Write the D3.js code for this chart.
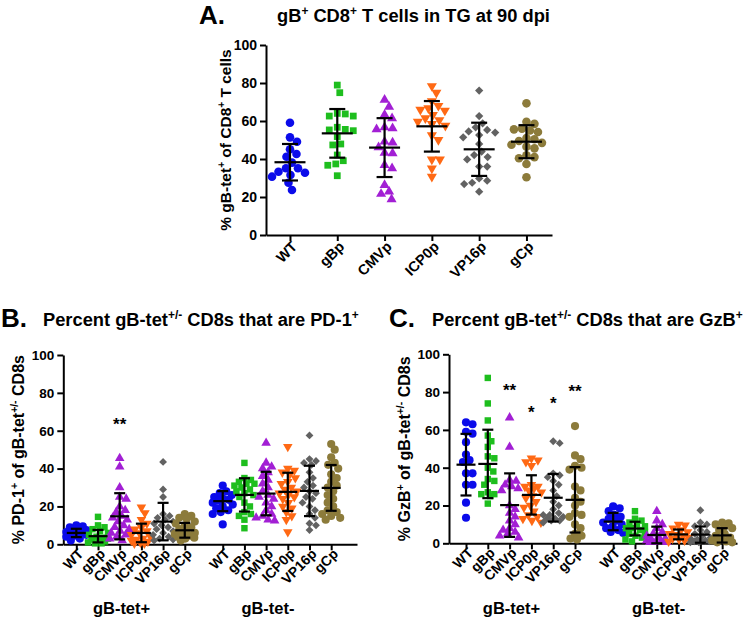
<!DOCTYPE html>
<html><head><meta charset="utf-8">
<script src="https://cdn.jsdelivr.net/npm/d3@7"></script>
<style>
body{margin:0;background:#fff}
svg{display:block}
text{font-family:"Liberation Sans",Arial,Helvetica,sans-serif;font-weight:bold;fill:#000}
</style>
</head><body>
<svg id="chart" width="750" height="623"></svg>
<script>
// ---------- shared ----------
const categories = ["WT","gBp","CMVp","ICP0p","VP16p","gCp"];
const groupNames = ["gB-tet+","gB-tet-"];
const seriesColors = ["#0b0bea","#1ebe1e","#a21fd4","#ff6914","#626262","#8c7b3b"];
const seriesShapes = ["circle","square","triangleUp","triangleDown","diamond","circle"];
const yTicks = [0,20,40,60,80,100];

// ---------- Panel A: % gB-tet+ of CD8+ T cells ----------
const aValues = [
  [59.1,51.4,49.1,45.1,42.6,41.2,38.1,35.1,35.1,32.8,33.3,31.6,30.7,27.5,23.7],
  [78.9,74.9,64.0,63.7,62.6,62.6,56.7,55.6,55.3,54.9,51.8,47.9,47.4,42.1,39.1,37.4,36.7,31.2],
  [71.1,67.5,63.2,61.4,56.7,55.6,56.1,49.1,48.6,46.1,43.3,43.0,35.1,36.8,26.3,22.8,21.6,18.8],
  [78.4,74.9,70.5,68.0,66.7,66.0,65.5,63.2,61.5,60.5,59.6,58.5,57.5,52.6,50.0,39.8,39.8,35.1,30.7],
  [76.0,62.6,58.8,56.7,54.5,55.3,53.9,52.6,51.4,47.9,43.9,42.1,41.0,39.8,36.0,36.0,29.8,28.6,27.5,26.8,22.8],
  [69.3,59.6,58.5,56.0,55.6,55.0,54.2,51.0,50.4,49.5,48.5,47.5,46.5,45.6,42.0,41.0,40.4,37.4,30.4]
];
const aMeans = [38.3,53.5,46.0,57.2,45.1,49.1];
const aSDs   = [9.6,12.8,15.5,13.3,14.0,8.7];

// ---------- Panel B: % PD-1+ ----------
const bTetPosValues = [
  [10,9.5,9,8,7.5,7,6.5,6,6,5.5,5,4.5,4,3,2],
  [14.5,10,9,8,7,6,5,4,3.5,3,2.5,2,1.5,1,0.5,0.5],
  [45.5,41,30,25,24,20,18,17,15,14,13,12,10,9,8,7,6,5,4,3,2],
  [19.5,16.5,13,11,9,8,7,6,5,4,3,2.5,2,1.5,1,0.5,0.5],
  [43.5,29,25,16,15,14,13,12,11,10,9,8,7,6,5,4,3,2.5,2],
  [16,15,14,13.5,12,11,10,9,8,7,6,5.5,5,4.5,4,3.5,3,2]
];
const bTetPosMeans = [6.0,4.3,14.8,6.0,12.0,7.4];
const bTetPosSDs   = [2.2,3.3,12.2,4.9,9.9,3.9];
const bTetNegValues = [
  [31,28,27,26,25,24,23.5,23,22,21,20,19,18,17,16,10.5],
  [43,35,34,33,32,32,31,30,29,28,27,26,25,22,20,17,16,15,13,8.5],
  [53.5,43,41,40,38,36,34,32,30,28,26,25,24,22,20,18,16,15,14,13,12.5],
  [51.5,40,39,38,37,35,33,32,30,29,28,27,26,25,24,22,20,19,17,15,13,6.5],
  [57.5,45,44,43,42,38,35,33,31,30,28,27,25,24,22,20,18,16,14,11,10,7.5],
  [53,50,46,43,42,40,37,35,33,31,30,28,26,24,22,20,18,17,16,15,14,13]
];
const bTetNegMeans = [22.8,26.1,26.8,27.7,28.2,29.8];
const bTetNegSDs   = [5.3,8.8,11.5,10.1,13.3,12.1];
const bStars = [{group:0, cat:2, text:"**", value:65.4}];

// ---------- Panel C: % GzB+ ----------
const cTetPosValues = [
  [64,63,59,58,53.5,47,44,43,37,37,31,31,21.5,13.5],
  [87.5,74,65,57,54,51,46,45,40,38,34,33,31,27,26,26,25,21],
  [66.5,51,33.5,33,31,30,29,28,20,18,16,14,12,10,8,7,6,5,4,3],
  [45,44,43,41,30,29,31,30,28,27,25,24,22,20,19,17,15,14,13,12,11],
  [54,53,37,36,35,33,31,28,25,22,20,18,16,15,15,14,13,13,12,12,11],
  [62,46.5,44.5,41,40,39,30,28,24,22,20,16,15,14,10,8,5,4,2.5,2]
];
const cTetPosMeans = [41.6,42.0,20.2,25.6,24.1,23.0];
const cTetPosSDs   = [16.3,18.1,16.8,10.4,12.6,17.3];
const cTetNegValues = [
  [19.5,18.5,17,15,14,13,12,11,10,9,8,7,6,5.5],
  [17,13,12,11,10,9,8,8,7,6,5,4,3,2,1],
  [17,12,10,8,6,5,4,3,2.5,2,1.5,1,1,0.5,0.5,0.5],
  [10,9.5,8,7,6,5,4.5,4,3,2.5,2,1.5,1],
  [17.5,11,10,9,7,6,5,4,3,2,2,1.5,1.5,1,1,0.5,0.5],
  [11,10.5,10,9,8,7,5,4,3,2,1.5,1,0.5,0.5]
];
const cTetNegMeans = [11.5,7.8,4.4,4.7,4.6,4.2];
const cTetNegSDs   = [4.6,3.6,4.4,2.6,4.3,3.8];
const cStars = [
  {group:0, cat:2, text:"**", value:83.2},
  {group:0, cat:3, text:"*",  value:71.4},
  {group:0, cat:4, text:"*",  value:76.2},
  {group:0, cat:5, text:"**", value:82.5}
];

// ---------- helpers ----------
const svg = d3.select("#chart");
const FONT = "'Liberation Sans', Arial, sans-serif";

function rich(textSel, str, size) {
  // "^{...}" = superscript
  const parts = str.split(/(\^\{[^}]*\})/).filter(p => p.length);
  let raised = false;
  const sh = size * 0.38;
  parts.forEach(p => {
    if (p.startsWith("^{")) {
      textSel.append("tspan").attr("font-size", size * 0.65).attr("dy", -sh).text(p.slice(2, -1));
      raised = true;
    } else {
      const t = textSel.append("tspan").attr("font-size", size).text(p);
      if (raised) { t.attr("dy", sh); raised = false; }
    }
  });
}

function symbolPath(shape, scale) {
  const s = scale * scale;
  switch (shape) {
    case "circle": return d3.symbol(d3.symbolCircle, 58 * s)();
    case "square": return d3.symbol(d3.symbolSquare, 46 * s)();
    case "triangleUp": return d3.symbol(d3.symbolTriangle, 44 * s)();
    case "triangleDown": return d3.symbol(d3.symbolTriangle, 44 * s)();
    case "diamond": return d3.symbol(d3.symbolSquare, 34 * s)();
  }
}
function symbolRotate(shape) {
  if (shape === "triangleDown") return 180;
  if (shape === "diamond") return 45;
  return 0;
}

function swarm(vals, y, dist, maxDx) {
  const pts = vals.map(v => ({v, y: y(v), dx: 0})).sort((a, b) => b.v - a.v);
  const placed = [];
  const cands = [0];
  for (let k = 0.5; k <= maxDx; k += 0.5) cands.push(k, -k);
  for (const p of pts) {
    let chosen = null, bestScore = -1, bestDx = 0;
    for (const dx of cands) {
      let minD = Infinity;
      for (const q of placed) {
        const d = Math.hypot(dx - q.dx, p.y - q.y);
        if (d < minD) minD = d;
      }
      if (minD >= dist) { chosen = dx; break; }
      if (minD > bestScore) { bestScore = minD; bestDx = dx; }
    }
    p.dx = chosen !== null ? chosen : bestDx;
    placed.push(p);
  }
  return pts;
}

function styleAxis(g) {
  g.selectAll(".domain").attr("stroke", "#000").attr("stroke-width", 2);
  g.selectAll(".tick line").attr("stroke", "#000").attr("stroke-width", 2);
  g.selectAll(".tick text").attr("font-family", FONT).attr("font-weight", "bold").attr("fill", "#000");
}

function drawPanel(opt) {
  const g = svg.append("g");
  const y = d3.scaleLinear().domain([0, 100]).range([opt.y0, opt.y100]);
  const x = d3.scaleLinear().domain(opt.xDomain).range([opt.axisX, opt.axisEnd]);
  const pos = (gi, ci) => ci + gi * (categories.length + opt.gap);

  // y axis
  const ya = g.append("g").attr("transform", `translate(${opt.axisX},0)`)
    .call(d3.axisLeft(y).tickValues(yTicks).tickSize(6).tickSizeOuter(0).tickPadding(3));
  styleAxis(ya);
  ya.selectAll(".tick text").attr("font-size", opt.tickFont);

  // x axis
  const tickPos = [], tickLab = [];
  opt.groups.forEach((gr, gi) => categories.forEach((c, ci) => { tickPos.push(pos(gi, ci)); tickLab.push(c); }));
  const xa = g.append("g").attr("transform", `translate(0,${opt.y0})`)
    .call(d3.axisBottom(x).tickValues(tickPos).tickFormat((d, i) => tickLab[i]).tickSize(6).tickSizeOuter(0));
  styleAxis(xa);
  xa.selectAll(".tick text")
    .attr("font-size", opt.xTickFont)
    .attr("text-anchor", "end")
    .attr("transform", `translate(${opt.labDx},${opt.labDy}) rotate(-45)`)
    .attr("x", 0).attr("y", 0).attr("dy", "0.35em");

  // points
  opt.groups.forEach((gr, gi) => {
    gr.values.forEach((vals, ci) => {
      const cx = x(pos(gi, ci));
      const pts = swarm(vals, y, opt.dist, opt.maxDx);
      g.append("g").selectAll("path").data(pts).join("path")
        .attr("d", symbolPath(seriesShapes[ci], opt.markerScale))
        .attr("fill", seriesColors[ci])
        .attr("transform", d => `translate(${cx + d.dx},${d.y}) rotate(${symbolRotate(seriesShapes[ci])})`);
    });
  });

  // mean ± SD
  opt.groups.forEach((gr, gi) => {
    gr.means.forEach((m, ci) => {
      const cx = x(pos(gi, ci));
      const hi = y(m + gr.sds[ci]), lo = y(Math.max(0, m - gr.sds[ci])), my = y(m);
      const eb = g.append("g").attr("stroke", "#000").attr("stroke-width", 2.2).attr("fill", "none");
      eb.append("line").attr("x1", cx).attr("x2", cx).attr("y1", hi).attr("y2", lo);
      eb.append("line").attr("x1", cx - opt.capW).attr("x2", cx + opt.capW).attr("y1", hi).attr("y2", hi);
      eb.append("line").attr("x1", cx - opt.capW).attr("x2", cx + opt.capW).attr("y1", lo).attr("y2", lo);
      eb.append("line").attr("x1", cx - opt.meanW).attr("x2", cx + opt.meanW).attr("y1", my).attr("y2", my);
    });
  });

  // stars
  (opt.stars || []).forEach(s => {
    g.append("text").attr("x", x(pos(s.group, s.cat))).attr("y", y(s.value) + 9.5)
      .attr("text-anchor", "middle").attr("font-size", 17).text(s.text);
  });

  // group labels
  if (opt.groupLabels) {
    opt.groups.forEach((gr, gi) => {
      const cx = (x(pos(gi, 0)) + x(pos(gi, categories.length - 1))) / 2 - 9;
      g.append("text").attr("x", cx).attr("y", 614).attr("text-anchor", "middle")
        .attr("font-size", 16.5).text(groupNames[gi]);
    });
  }

  // y label
  const yl = g.append("text")
    .attr("transform", `translate(${opt.yLabX},${(opt.y0 + opt.y100) / 2}) rotate(-90)`)
    .attr("text-anchor", "middle");
  rich(yl, opt.yLabel, opt.yLabFont);

  // panel letter + title
  g.append("text").attr("x", opt.letterX).attr("y", opt.letterY).attr("font-size", 26).text(opt.letter);
  const tt = g.append("text").attr("x", opt.titleX).attr("y", opt.titleY);
  rich(tt, opt.title, 18.3);
}

// Panel A
drawPanel({
  letter: "A.", letterX: 199, letterY: 24,
  title: "gB^{+} CD8^{+} T cells in TG at 90 dpi", titleX: 277, titleY: 22,
  yLabel: "% gB-tet^{+} of CD8^{+} T cells", yLabX: 231, yLabFont: 15.5,
  axisX: 266, axisEnd: 552, y0: 235, y100: 45,
  xDomain: [-0.507, 5.54], gap: 0,
  groups: [{values: aValues, means: aMeans, sds: aSDs}],
  tickFont: 14, xTickFont: 14.5, labDx: 4, labDy: 9,
  dist: 8, maxDx: 22, markerScale: 1,
  capW: 8, meanW: 15.5, groupLabels: false
});

// Panel B
drawPanel({
  letter: "B.", letterX: 1, letterY: 327,
  title: "Percent gB-tet^{+/-} CD8s that are PD-1^{+}", titleX: 43, titleY: 326,
  yLabel: "% PD-1^{+} of gB-tet^{+/-} CD8s", yLabX: 24, yLabFont: 16,
  axisX: 63.3, axisEnd: 357, y0: 544.3, y100: 355,
  xDomain: [-0.6, 12.94], gap: 0.75,
  groups: [
    {values: bTetPosValues, means: bTetPosMeans, sds: bTetPosSDs},
    {values: bTetNegValues, means: bTetNegMeans, sds: bTetNegSDs}
  ],
  stars: bStars,
  tickFont: 13.5, xTickFont: 14, labDx: 4, labDy: 7,
  dist: 6.5, maxDx: 10, markerScale: 0.95,
  capW: 5.5, meanW: 9.5, groupLabels: true
});

// Panel C
drawPanel({
  letter: "C.", letterX: 389, letterY: 327,
  title: "Percent gB-tet^{+/-} CD8s that are GzB^{+}", titleX: 432, titleY: 326,
  yLabel: "% GzB^{+} of gB-tet^{+/-} CD8s", yLabX: 410, yLabFont: 16,
  axisX: 449, axisEnd: 737, y0: 543.3, y100: 354.3,
  xDomain: [-0.78, 12.43], gap: 0.75,
  groups: [
    {values: cTetPosValues, means: cTetPosMeans, sds: cTetPosSDs},
    {values: cTetNegValues, means: cTetNegMeans, sds: cTetNegSDs}
  ],
  stars: cStars,
  tickFont: 13.5, xTickFont: 14, labDx: 4, labDy: 7,
  dist: 6.5, maxDx: 10, markerScale: 0.95,
  capW: 5.5, meanW: 9.5, groupLabels: true
});
</script>
</body></html>
